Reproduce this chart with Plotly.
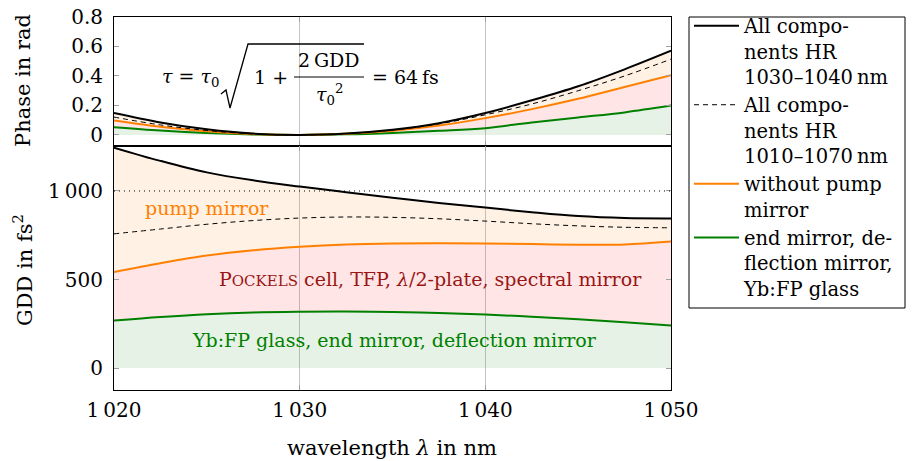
import plotly.graph_objects as go
from plotly.subplots import make_subplots

# ---------------- data ----------------
wavelength = [1020, 1022.5, 1025, 1027.5, 1030, 1032.5, 1035, 1037.5, 1040, 1042.5, 1045, 1047.5, 1050]

gdd_all_hr_1030_1040 = [1245, 1170, 1105, 1060, 1025, 993, 962, 932, 906, 880, 858, 847, 845]
gdd_all_hr_1010_1070 = [758, 785, 812, 833, 847, 853, 851, 843, 830, 815, 803, 795, 792]
gdd_without_pump = [543, 592, 635, 665, 685, 698, 704, 705, 704, 700, 697, 698, 715]
gdd_end_defl_glass = [268, 288, 304, 314, 318, 319, 316, 311, 302, 290, 275, 258, 240]

phase_all_hr_1030_1040 = [0.149, 0.085, 0.038, 0.009, 0.0, 0.010, 0.036, 0.080, 0.149, 0.235, 0.330, 0.445, 0.571]
phase_all_hr_1010_1070 = [0.121, 0.068, 0.030, 0.007, 0.0, 0.009, 0.033, 0.075, 0.137, 0.210, 0.300, 0.400, 0.514]
phase_without_pump = [0.098, 0.055, 0.025, 0.006, 0.0, 0.008, 0.029, 0.064, 0.114, 0.175, 0.245, 0.325, 0.405]
phase_end_defl_glass = [0.053, 0.030, 0.013, 0.003, 0.0, 0.004, 0.014, 0.028, 0.046, 0.085, 0.119, 0.153, 0.199]

legend_names = [
    "All compo-<br>nents HR<br>1030–1040\u2009nm",
    "All compo-<br>nents HR<br>1010–1070\u2009nm",
    "without pump<br>mirror",
    "end mirror, de-<br>flection mirror,<br>Yb:FP glass",
]

x_tickvals = [1020, 1030, 1040, 1050]
x_ticktext = ["1\u2009020", "1\u2009030", "1\u2009040", "1\u2009050"]
phase_tickvals = [0, 0.2, 0.4, 0.6, 0.8]
phase_ticktext = ["0", "0.2", "0.4", "0.6", "0.8"]
gdd_tickvals = [0, 500, 1000]
gdd_ticktext = ["0", "500", "1\u2009000"]
gdd_reference = 1000

# ---------------- style ----------------
FONT = "DejaVu Serif"
BLACK = "#000000"
ORANGE = "#ff8000"
GREEN = "#008000"
DARKRED = "#9a1515"
FILL_OR = "rgba(255,128,0,0.10)"
FILL_RED = "rgba(255,0,0,0.10)"
FILL_GR = "rgba(0,128,0,0.10)"
FS_TICK = 20
FS_TITLE = 21
FS_LEG = 19.5
FS_ANN = 19
FS_EQ = 19

W, H = 912, 461
L, R, T, B = 114, 671, 17, 390
MID = 146
LEG_L, LEG_R, LEG_T, LEG_B = 689, 905, 17, 308
LEG_CENTER = 157  # vertical centre of the (frameless) legend block, px

fig = make_subplots(rows=2, cols=1, shared_xaxes=True, vertical_spacing=0,
                    row_heights=[(MID - T) / (B - T), (B - MID) / (B - T)])


def add_set(row, ys):
    black, dashed, orange, green = ys
    fig.add_trace(go.Scatter(x=wavelength, y=green, mode="lines", line=dict(color=GREEN, width=2, shape="spline"),
                             fill="tozeroy", fillcolor=FILL_GR, showlegend=False), row=row, col=1)
    fig.add_trace(go.Scatter(x=wavelength, y=orange, mode="lines", line=dict(color=ORANGE, width=2, shape="spline"),
                             fill="tonexty", fillcolor=FILL_RED, showlegend=False), row=row, col=1)
    fig.add_trace(go.Scatter(x=wavelength, y=black, mode="lines", line=dict(color=BLACK, width=2, shape="spline"),
                             fill="tonexty", fillcolor=FILL_OR, showlegend=False), row=row, col=1)
    fig.add_trace(go.Scatter(x=wavelength, y=dashed, mode="lines",
                             line=dict(color=BLACK, width=1, shape="spline", dash="5px,4px"),
                             showlegend=False), row=row, col=1)


add_set(1, [phase_all_hr_1030_1040, phase_all_hr_1010_1070, phase_without_pump, phase_end_defl_glass])
add_set(2, [gdd_all_hr_1030_1040, gdd_all_hr_1010_1070, gdd_without_pump, gdd_end_defl_glass])

# legend-only entries (line samples without fill)
legend_styles = [dict(color=BLACK, width=2), dict(color=BLACK, width=1, dash="5px,4px"),
                 dict(color=ORANGE, width=2), dict(color=GREEN, width=2)]
for name, st in zip(legend_names, legend_styles):
    fig.add_trace(go.Scatter(x=[None], y=[None], mode="lines", line=st, name=name, showlegend=True),
                  row=2, col=1)

axis_common = dict(showline=True, linecolor=BLACK, linewidth=1, mirror="allticks", ticks="inside",
                   ticklen=5, tickcolor="#a0a0a0", zeroline=False,
                   tickfont=dict(family=FONT, size=FS_TICK, color=BLACK))

fig.update_xaxes(range=[1020, 1050], tickvals=x_tickvals, ticktext=x_ticktext, showgrid=True,
                 gridcolor="#c4c4c4", gridwidth=1, **axis_common)
fig.update_xaxes(showticklabels=False, row=1, col=1)
fig.update_xaxes(ticklabelstandoff=2, row=2, col=1)
fig.update_yaxes(showgrid=False, ticklabelstandoff=6, **axis_common)
fig.update_yaxes(range=[-0.075, 0.8], tickvals=phase_tickvals, ticktext=phase_ticktext, row=1, col=1)
fig.update_yaxes(range=[-124, 1254], tickvals=gdd_tickvals, ticktext=gdd_ticktext, row=2, col=1)

# dotted reference line at 1000 fs^2
fig.add_shape(type="line", xref="x2 domain", yref="y2", x0=0, x1=1, y0=gdd_reference, y1=gdd_reference,
              line=dict(color=BLACK, width=1, dash="1px,4px"))


def px(xp):
    return (xp - L) / (R - L)


def py(yp):
    return (B - yp) / (B - T)


annots = []


def ann(text, xp, yp, xanchor="center", size=FS_ANN, color=BLACK, angle=0):
    annots.append(dict(text=text, x=px(xp), y=py(yp), xref="paper", yref="paper", xanchor=xanchor,
                       yanchor="middle", showarrow=False, textangle=angle,
                       font=dict(family=FONT, size=size, color=color)))


# axis titles
ann("Phase in rad", 23, 81, size=FS_TITLE, angle=-90)
ann("GDD in fs<sup>2</sup>", 23, 270, size=FS_TITLE, angle=-90)
ann("wavelength <i>λ</i> in nm", 392, 448, size=FS_TITLE)

# region labels
ann("pump mirror", 207, 208, color=ORANGE)
ann("P<span style='font-size:15px'>OCKELS</span> cell, TFP, <i>λ</i>/2-plate, spectral mirror", 430, 279, color=DARKRED)
ann("Yb:FP glass, end mirror, deflection mirror", 394, 340, color=GREEN)

# formula
ann("<i>τ</i> = <i>τ</i><sub>0</sub>", 160, 77, xanchor="left", size=FS_EQ)
ann("1 +", 252, 77, xanchor="left", size=FS_EQ)
ann("2\u2009GDD", 329, 60, size=FS_EQ)
ann("<i>τ</i><sub>0</sub><sup>2</sup>", 329, 94, size=FS_EQ)
ann("= 64\u2009fs", 370, 77, xanchor="left", size=FS_EQ)

path_pts = [(221, 94), (226, 90), (230, 108), (248, 44), (364, 44)]
path = "M " + " L ".join(f"{px(a)},{py(b)}" for a, b in path_pts)
fig.add_shape(type="path", xref="paper", yref="paper", path=path, line=dict(color=BLACK, width=1.3))
fig.add_shape(type="line", xref="paper", yref="paper", x0=px(294), x1=px(364), y0=py(77), y1=py(77),
              line=dict(color=BLACK, width=1))

# legend frame
fig.add_shape(type="rect", xref="paper", yref="paper", x0=px(LEG_L), x1=px(LEG_R), y0=py(LEG_T), y1=py(LEG_B),
              line=dict(color=BLACK, width=1), fillcolor="rgba(0,0,0,0)", layer="above")

fig.update_layout(
    width=W, height=H,
    margin=dict(l=L, r=W - R, t=T, b=H - B, autoexpand=False),
    paper_bgcolor="white", plot_bgcolor="white",
    font=dict(family=FONT, size=FS_LEG, color=BLACK),
    annotations=annots,
    legend=dict(x=(LEG_L - L) / (R - L), y=py(LEG_CENTER), xanchor="left", yanchor="middle",
                borderwidth=0, bgcolor="rgba(0,0,0,0)", font=dict(family=FONT, size=FS_LEG),
                valign="top", tracegroupgap=0, traceorder="normal", itemwidth=45),
    showlegend=True,
)

fig.write_html("out.html")
